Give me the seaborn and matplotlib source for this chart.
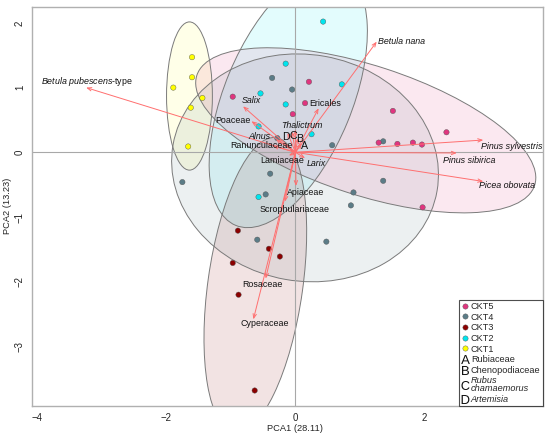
import numpy as np
import pandas as pd
import matplotlib
matplotlib.use("Agg")
import matplotlib.pyplot as plt
from matplotlib.patches import Ellipse
from matplotlib.lines import Line2D
import seaborn as sns

# sample scores
ckt1_x = [-1.60, -1.60, -1.89, -1.44, -1.62, -1.66]
ckt1_y = [1.47, 1.16, 1.00, 0.84, 0.69, 0.09]
ckt2_x = [0.43, -0.15, 0.72, -0.15, 0.25, -0.54, -0.57, -0.57]
ckt2_y = [2.02, 1.37, 1.05, 0.74, 0.28, 0.91, 0.40, -0.69]
ckt3_x = [-0.89, -0.41, -0.97, -0.88, -0.63, -0.24]
ckt3_y = [-1.21, -1.49, -1.71, -2.20, -3.68, -1.61]
ckt4_x = [-0.36, -1.75, -0.39, -0.46, -0.28, -0.05, 1.36, 0.57, 1.36, 0.90, 0.86, -0.59, 0.48]
ckt4_y = [1.15, -0.46, -0.33, -0.65, 0.22, 0.97, 0.17, 0.11, -0.44, -0.62, -0.82, -1.35, -1.38]
ckt5_x = [-0.97, 0.21, 0.15, -0.04, 1.51, 2.34, 1.29, 1.58, 1.82, 1.96, 1.97]
ckt5_y = [0.86, 1.09, 0.76, 0.59, 0.64, 0.31, 0.15, 0.13, 0.15, 0.12, -0.85]

groups = ["CKT1", "CKT2", "CKT3", "CKT4", "CKT5"]
colors = ["#ffff00", "#00e5ee", "#8b0000", "#5b7c87", "#e0357f"]

# group ellipses: centre, width, height, angle
ell_cx = [-1.64, -0.11, -0.62, 0.15, 1.09]
ell_cy = [0.87, 0.84, -2.05, -0.24, 0.34]
ell_w = [0.71, 4.26, 4.6, 4.15, 5.5]
ell_h = [2.29, 1.98, 1.47, 3.5, 2.0]
ell_ang = [0, 67.5, 82, -10, -18]

# taxa loadings (arrow tips) and their labels
taxa = ["Betula nana", "Pinus sylvestris", "Pinus sibirica", "Picea obovata",
        "Ericales", "Salix", "Poaceae", "Thalictrum", "Alnus", "Ranunculaceae",
        "Lamiaceae", "Larix", "Apiaceae", "Scrophulariaceae", "Rosaceae",
        "Cyperaceae", "A", "B", "C", "D", "Betula pubescens-type"]
tip_x = [1.26, 2.91, 2.50, 2.91, 0.36, -0.81, -0.68, 0.00, -0.30, -0.35,
         -0.10, 0.15, 0.01, -0.16, -0.46, -0.65, 0.10, 0.04, -0.05, -0.12, -3.24]
tip_y = [1.71, 0.19, -0.01, -0.45, 0.68, 0.71, 0.48, 0.35, 0.20, 0.10,
         -0.05, -0.09, -0.52, -0.76, -1.95, -2.58, 0.14, 0.22, 0.32, 0.30, 1.00]
lab_x = [1.28, 2.87, 2.28, 2.85, 0.21, -0.83, -0.69, -0.22, -0.73, -1.01,
         -0.54, 0.17, -0.13, -0.56, -0.83, -0.85, 0.14, 0.06, -0.03, -0.15, -3.23]
lab_y = [1.71, 0.09, -0.12, -0.52, 0.76, 0.80, 0.49, 0.42, 0.25, 0.11,
         -0.13, -0.17, -0.62, -0.88, -2.05, -2.64, 0.10, 0.20, 0.25, 0.24, 1.10]
lab_ha = ["left", "left", "left", "left", "left", "left", "right", "left", "left", "left",
          "left", "left", "left", "left", "left", "left", "center", "center", "center", "center", "center"]
lab_italic = [True, True, True, True, False, True, False, True, True, False,
              False, True, False, False, False, False, False, False, False, False, False]

letters = ["A", "B", "C", "D"]
letter_names = ["Rubiaceae", "Chenopodiaceae", "Rubus\nchamaemorus", "Artemisia"]
letter_italic = [False, False, True, True]

sns.set_style("white")
plt.rcParams["font.family"] = ["Liberation Sans", "DejaVu Sans"]
plt.rcParams["mathtext.fontset"] = "custom"
plt.rcParams["mathtext.it"] = "Liberation Sans:italic"
plt.rcParams["mathtext.rm"] = "Liberation Sans"
fs = 6.4

pts = pd.concat([
    pd.DataFrame({"x": xs, "y": ys, "group": g})
    for g, xs, ys in zip(groups,
                         [ckt1_x, ckt2_x, ckt3_x, ckt4_x, ckt5_x],
                         [ckt1_y, ckt2_y, ckt3_y, ckt4_y, ckt5_y])
], ignore_index=True)

fig = plt.figure(figsize=(5.5, 4.38), dpi=100)
ax = fig.add_axes([0.058, 0.073, 0.9287, 0.9117])

for i in range(len(groups)):
    a = 0.09 if groups[i] == "CKT1" else 0.11
    ax.add_patch(Ellipse((ell_cx[i], ell_cy[i]), ell_w[i], ell_h[i], angle=ell_ang[i],
                         facecolor=colors[i], alpha=a, edgecolor="none", zorder=1))
    ax.add_patch(Ellipse((ell_cx[i], ell_cy[i]), ell_w[i], ell_h[i], angle=ell_ang[i],
                         facecolor="none", edgecolor="#7a7a7a", lw=0.7, zorder=1.5))

ax.axhline(0, color="#a8a8a8", lw=0.8, zorder=1.6)
ax.axvline(0, color="#a8a8a8", lw=0.8, zorder=1.6)

sns.scatterplot(data=pts, x="x", y="y", hue="group", palette=dict(zip(groups, colors)),
                s=15, edgecolor="#555555", linewidth=0.3, legend=False, ax=ax, zorder=3)

for i, name in enumerate(taxa):
    ax.annotate("", xy=(tip_x[i], tip_y[i]), xytext=(0, 0),
                arrowprops=dict(arrowstyle="->,head_length=0.3,head_width=0.12",
                                color="#ff6f6f", lw=0.7, shrinkA=0, shrinkB=0), zorder=4)
    if name == "Betula pubescens-type":
        txt = r"$\mathit{Betula\ pubescens}$-type"
        style = "normal"
    else:
        txt = name
        style = "italic" if lab_italic[i] else "normal"
    size = fs + 1.3 if name in letters else fs
    ax.text(lab_x[i], lab_y[i], txt, ha=lab_ha[i], va="center", fontsize=size,
            fontstyle=style, color="#111111", zorder=5)

ax.set_xlim(-4.08, 3.83)
ax.set_ylim(-3.92, 2.25)
ax.set_xticks([-4, -2, 0, 2])
ax.set_yticks([-3, -2, -1, 0, 1, 2])
ax.tick_params(axis="both", labelsize=fs + 0.5, length=3, width=0.8, color="#999999",
               labelcolor="#222222", direction="out", pad=2)
ax.tick_params(axis="y", labelrotation=90)
for lab in ax.get_yticklabels():
    lab.set_va("center")
for sp in ax.spines.values():
    sp.set_color("#b0b0b0")
    sp.set_linewidth(1.0)

ax.set_xlabel("PCA1 (28.11)", fontsize=fs + 0.3, labelpad=3)
ax.set_ylabel("PCA2 (13.23)", fontsize=fs + 0.3, labelpad=2)
ax.xaxis.set_label_coords(0.515, -0.045)

handles = []
labels = []
for g, c in list(zip(groups, colors))[::-1]:
    handles.append(Line2D([], [], ls="none", marker="o", markersize=3.8, markerfacecolor=c,
                          markeredgecolor="#555555", markeredgewidth=0.3))
    labels.append(g)
for L, n in zip(letters, letter_names):
    handles.append(Line2D([], [], ls="none", marker=r"$\mathrm{%s}$" % L, markersize=6.5,
                          color="#111111", markeredgewidth=0))
    labels.append(n)

leg = ax.legend(handles, labels, loc="lower right", bbox_to_anchor=(1.0, 0.0),
                borderaxespad=0, frameon=True, fancybox=False, fontsize=fs + 0.2,
                handlelength=0.7, handletextpad=0.3, labelspacing=0.18,
                borderpad=0.25)
leg.get_frame().set_edgecolor("#222222")
leg.get_frame().set_linewidth(0.8)
for t, it in zip(leg.get_texts()[len(groups):], letter_italic):
    if it:
        t.set_fontstyle("italic")
for t in leg.get_texts()[len(groups):]:
    t.set_linespacing(0.8)

fig.savefig("out.png", dpi=100)
